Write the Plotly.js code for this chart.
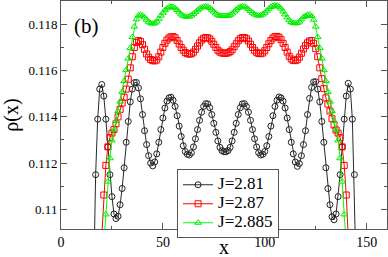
<!DOCTYPE html>
<html>
<head>
<meta charset="utf-8">
<script src="https://cdn.plot.ly/plotly-3.0.1.min.js"></script>
<style>
  html, body { margin: 0; padding: 0; background: #fff; }
  #chart { width: 388px; height: 257px; }
</style>
</head>
<body>
<div id="chart"></div>
<script>
// ---- data ----
const seriesNames = ["J=2.81", "J=2.87", "J=2.885"];

const xBlack = [16,17,18,19,20,21,22,23,24,25,26,27,28,29,30,31,32,33,34,35,36,37,38,39,40,41,42,43,44,45,46,47,48,49,50,51,52,53,54,55,56,57,58,59,60,61,62,63,64,65,66,67,68,69,70,71,72,73,74,75,76,77,78,79,80,81,82,83,84,85,86,87,88,89,90,91,92,93,94,95,96,97,98,99,100,101,102,103,104,105,106,107,108,109,110,111,112,113,114,115,116,117,118,119,120,121,122,123,124,125,126,127,128,129,130,131,132,133,134,135,136,137,138,139,140,141,142,143,144,145];
const rhoBlack = [0.1067,0.1115,0.1139,0.1152,0.1154,0.1149,0.1139,0.1127,0.1115,0.11055,0.1098,0.1096,0.1097,0.1102,0.1109,0.1118,0.1129,0.1138,0.11465,0.1152,0.11548,0.11549,0.11525,0.11478,0.11410,0.11340,0.11280,0.11232,0.11200,0.11188,0.11205,0.11240,0.11290,0.11345,0.11395,0.11438,0.11468,0.11482,0.11485,0.11472,0.11445,0.11405,0.11360,0.11315,0.11275,0.11250,0.11238,0.11235,0.11245,0.11270,0.11305,0.11345,0.11385,0.11420,0.11445,0.11457,0.11456,0.11440,0.11410,0.11372,0.11333,0.11296,0.11268,0.11254,0.11249,0.11249,0.11254,0.11268,0.11296,0.11333,0.11372,0.11410,0.11440,0.11456,0.11457,0.11445,0.11420,0.11385,0.11345,0.11305,0.11270,0.11245,0.11235,0.11238,0.11250,0.11275,0.11315,0.11360,0.11405,0.11445,0.11472,0.11486,0.11482,0.11468,0.11438,0.11395,0.11345,0.11290,0.11240,0.11205,0.11186,0.11198,0.11232,0.11280,0.11340,0.11410,0.11480,0.11527,0.11551,0.11552,0.11520,0.11465,0.1138,0.1129,0.1118,0.1109,0.1102,0.10968,0.10955,0.1098,0.11055,0.1115,0.1127,0.1139,0.1149,0.11545,0.1152,0.1139,0.1115,0.1067];

const xRed = [20,21,22,23,24,25,26,27,28,29,30,31,32,33,34,35,36,37,38,39,40,41,42,43,44,45,46,47,48,49,50,51,52,53,54,55,56,57,58,59,60,61,62,63,64,65,66,67,68,69,70,71,72,73,74,75,76,77,78,79,80,81,82,83,84,85,86,87,88,89,90,91,92,93,94,95,96,97,98,99,100,101,102,103,104,105,106,107,108,109,110,111,112,113,114,115,116,117,118,119,120,121,122,123,124,125,126,127,128,129,130,131,132,133,134,135,136,137,138,139,140,141];
const rhoRed = [0.1088,0.11062,0.1119,0.1127,0.1131,0.1133,0.11345,0.1137,0.1140,0.11432,0.1146,0.11485,0.1152,0.11563,0.11612,0.1166,0.1170,0.11722,0.1173,0.11726,0.11712,0.11692,0.11672,0.11658,0.11648,0.11643,0.11642,0.11646,0.11660,0.11680,0.11700,0.11718,0.11732,0.11741,0.11746,0.11747,0.11742,0.11730,0.11715,0.11700,0.11688,0.11678,0.11673,0.11671,0.11673,0.11680,0.11692,0.11706,0.11720,0.11732,0.11740,0.11743,0.11742,0.11737,0.11727,0.11714,0.11700,0.11688,0.11680,0.11676,0.11675,0.11675,0.11677,0.11682,0.11690,0.11703,0.11716,0.11729,0.11738,0.11743,0.11743,0.11738,0.11728,0.11714,0.11700,0.11688,0.11679,0.11674,0.11673,0.11676,0.11686,0.11700,0.11716,0.11730,0.11741,0.11747,0.11748,0.11744,0.11734,0.11718,0.11700,0.11680,0.11662,0.11650,0.11644,0.11643,0.11647,0.11658,0.11675,0.11693,0.11708,0.11720,0.11728,0.11730,0.11718,0.11695,0.11660,0.11612,0.11565,0.11522,0.11482,0.11455,0.11425,0.11392,0.11365,0.11343,0.11330,0.11310,0.11270,0.11190,0.11062,0.1088];

const xGreen = [21,22,23,24,25,26,27,28,29,30,31,32,33,34,35,36,37,38,39,40,41,42,43,44,45,46,47,48,49,50,51,52,53,54,55,56,57,58,59,60,61,62,63,64,65,66,67,68,69,70,71,72,73,74,75,76,77,78,79,80,81,82,83,84,85,86,87,88,89,90,91,92,93,94,95,96,97,98,99,100,101,102,103,104,105,106,107,108,109,110,111,112,113,114,115,116,117,118,119,120,121,122,123,124,125,126,127,128,129,130,131,132,133,134,135,136,137,138,139,140];
const rhoGreen = [0.1085,0.10978,0.11120,0.11221,0.11298,0.11343,0.11382,0.11425,0.11466,0.11508,0.11555,0.11602,0.11652,0.11698,0.11745,0.11790,0.11822,0.11838,0.11842,0.11838,0.11830,0.11820,0.11811,0.11805,0.11803,0.11805,0.11812,0.11824,0.11838,0.11850,0.11861,0.11869,0.11874,0.11876,0.11875,0.11870,0.11862,0.11852,0.11843,0.11837,0.11834,0.11833,0.11834,0.11838,0.11845,0.11853,0.11861,0.11868,0.11873,0.11876,0.11877,0.11876,0.11871,0.11863,0.11855,0.11847,0.11841,0.11837,0.11836,0.11836,0.11836,0.11837,0.11841,0.11847,0.11855,0.11863,0.11871,0.11876,0.11878,0.11877,0.11873,0.11866,0.11858,0.11850,0.11843,0.11839,0.11838,0.11839,0.11843,0.11850,0.11859,0.11868,0.11875,0.11880,0.11882,0.11881,0.11876,0.11868,0.11856,0.11843,0.11830,0.11818,0.11810,0.11806,0.11804,0.11806,0.11812,0.11822,0.11832,0.11836,0.11841,0.11842,0.11836,0.11820,0.11790,0.11745,0.11698,0.11652,0.11602,0.11555,0.11508,0.11466,0.11425,0.11382,0.11343,0.11298,0.11221,0.11120,0.10978,0.1085];

const yTickVals = [0.11, 0.112, 0.114, 0.116, 0.118];
const yTickText = ["0.11", "0.112", "0.114", "0.116", "0.118"];
const xTickVals = [0, 50, 100, 150];
const xTickText = ["0", "50", "100", "150"];
const panelLabel = "(b)";
const xTitle = "x";
const yTitle = "ρ(x)";

// ---- drawing ----
const SERIF = "'Liberation Serif', 'Times New Roman', 'DejaVu Serif', serif";
const AXC = "#555555";
const legendLabel = s => '<span style="font-size:17px">' + s + '</span>';

const traces = [
  {x: xBlack, y: rhoBlack, name: legendLabel(seriesNames[0]), type: "scatter", mode: "lines+markers",
   line: {color: "#111111", width: 0.9},
   marker: {symbol: "circle-open", size: 6, color: "#222222", line: {width: 1, color: "#222222"}}},
  {x: xRed, y: rhoRed, name: legendLabel(seriesNames[1]), type: "scatter", mode: "lines+markers",
   line: {color: "#ff0000", width: 1},
   marker: {symbol: "square-open", size: 6, color: "#ff0000", line: {width: 1, color: "#ff0000"}}},
  {x: xGreen, y: rhoGreen, name: legendLabel(seriesNames[2]), type: "scatter", mode: "lines+markers",
   line: {color: "#00ff00", width: 1},
   marker: {symbol: "triangle-up-open", size: 6, color: "#00ee00", line: {width: 1, color: "#00ee00"}}}
];

const axisCommon = {
  showline: true, linecolor: AXC, linewidth: 1, mirror: "ticks",
  ticks: "inside", ticklen: 6, tickwidth: 1, tickcolor: AXC,
  showgrid: false, zeroline: false
};

const layout = {
  width: 388, height: 257,
  margin: {l: 61, r: 1, t: 1, b: 28, pad: 0},
  paper_bgcolor: "#ffffff", plot_bgcolor: "#ffffff",
  font: {family: SERIF, color: "#000000"},
  showlegend: true,
  legend: {
    x: 0.356, y: 0.262, xanchor: "left", yanchor: "top",
    bgcolor: "#ffffff", bordercolor: AXC, borderwidth: 1,
    font: {family: SERIF, size: 10, color: "#000"},
    itemwidth: 30, tracegroupgap: 0
  },
  xaxis: Object.assign({}, axisCommon, {
    range: [0, 160],
    tickmode: "array", tickvals: xTickVals, ticktext: xTickText,
    tickfont: {family: SERIF, size: 14, color: "#000"},
    minor: {ticks: "inside", ticklen: 3, tickcolor: AXC, dtick: 25, tick0: 0, showgrid: false}
  }),
  yaxis: Object.assign({}, axisCommon, {
    range: [0.10915, 0.11901],
    tickmode: "array", tickvals: yTickVals, ticktext: yTickText,
    tickfont: {family: SERIF, size: 13, color: "#000"},
    minor: {ticks: "inside", ticklen: 3, tickcolor: AXC, dtick: 0.001, tick0: 0.11, showgrid: false},
    title: {text: yTitle, font: {family: SERIF, size: 20, color: "#000"}, standoff: 4}
  }),
  annotations: [
    {text: panelLabel, xref: "paper", yref: "paper", x: 0.079, y: 0.89,
     xanchor: "center", yanchor: "middle", showarrow: false,
     font: {family: SERIF, size: 21, color: "#000"}},
    {text: xTitle, xref: "paper", yref: "paper", x: 0.5, y: -0.078,
     xanchor: "center", yanchor: "middle", showarrow: false,
     font: {family: SERIF, size: 20, color: "#000"}}
  ]
};

Plotly.newPlot("chart", traces, layout, {staticPlot: true, displayModeBar: false});
</script>
</body>
</html>
